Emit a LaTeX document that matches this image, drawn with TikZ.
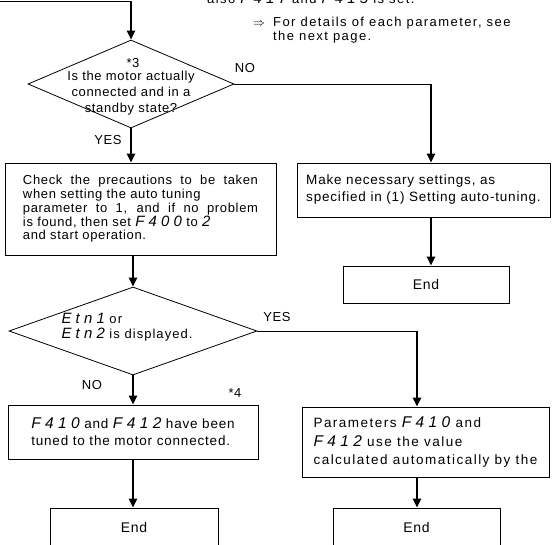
\documentclass[tikz,border=0pt]{standalone}
\usepackage{fontspec}
\setmainfont{Liberation Sans}
\newfontfamily\segfont{Liberation Sans}[LetterSpace=28, Scale=1.15]
\usepackage{tikz}
\usetikzlibrary{arrows.meta,positioning}
\usetikzlibrary{shapes.geometric}
\newcommand{\seg}[1]{{\segfont\itshape #1}}
\newcommand{\fsz}[3]{\fontsize{#1}{#2}\selectfont\addfontfeatures{LetterSpace=#3}}
\newcommand{\fullline}[1]{\makebox[235pt][s]{#1}}
\tikzstyle{new style 0}=[draw=black, shape=diamond, line width=0.8pt,
        inner sep=0pt, minimum width=206pt, minimum height=88pt]
\tikzstyle{new style 1}=[draw=black, shape=rectangle, line width=0.8pt,
        inner sep=0pt, align=left]
\tikzstyle{new style 2}=[draw=black, shape=rectangle, line width=0.8pt,
        inner sep=0pt, minimum height=37pt, font=\fsz{14}{16}{5}]
\tikzstyle{new style 3}=[inner sep=0pt, align=center]
\tikzstyle{new style 4}=[inner sep=0pt, font=\fsz{13}{15}{5}]
\tikzstyle{new edge style 0}=[-{Triangle[length=9pt, width=8pt]}, line width=2.2pt]
\tikzstyle{new edge style 1}=[-, line width=0.8pt]

\begin{document}
\begin{tikzpicture}[x=1pt, y=-1pt]
    \useasboundingbox (0, 0) rectangle (554, 544);

    % note at the top
    \node [anchor=base west, inner sep=0pt, font=\fsz{13}{14}{11}] (30) at (207, 3)
        {also \seg{F417} and \seg{F415} is set.};
    \node [anchor=north west, inner sep=0pt, font=\fsz{13}{14}{11}] (31) at (253, 16)
        {\begin{tabular}{@{}l@{\hspace{8pt}}l@{}}$\Rightarrow$ & For details of each parameter, see\\
        & the next page.\end{tabular}};

    % first decision
    \node [style=new style 0] (0) at (131, 84) {};
    \node [style=new style 3, font=\fsz{13}{15.7}{5}] (1) at (131, 93)
        {Is the motor actually\\connected and in a\\standby state?};
    \node [style=new style 4] (2) at (133, 63) {*3};
    \node [style=new style 4] (3) at (245, 68) {NO};
    \node [style=new style 4] (9) at (108, 140) {YES};

    \node [style=new style 1, minimum width=271pt, minimum height=92pt,
        font=\fsz{13}{13.7}{5}] (4) at (140.5, 209)
        {\fullline{Check the precautions to be taken}\\when setting the auto tuning\\
         \fullline{parameter to 1, and if no problem}\\is found, then set \seg{F400} to \seg{2}\\
         and start operation.};
    \node [style=new style 1, minimum width=253pt, minimum height=54pt,
        font=\fsz{13.5}{17}{6}] (5) at (423.5, 190)
        {Make necessary settings, as\\specified in (1) Setting auto-tuning.};
    \node [style=new style 2, minimum width=166pt] (6) at (426, 284.5) {End};

    % second decision
    \node [style=new style 0, minimum width=248pt] (7) at (133, 331) {};
    \node [style=new style 1, draw=none, font=\fsz{13}{14.5}{8}] (8) at (127, 327)
        {\seg{Etn1} or\\\seg{Etn2} is displayed.};
    \node [style=new style 4] (10) at (277, 317) {YES};
    \node [style=new style 4] (11) at (92, 385) {NO};
    \node [style=new style 4] (12) at (235, 393) {*4};

    \node [style=new style 1, minimum width=250pt, minimum height=54pt,
        font=\fsz{13.5}{17}{6}] (13) at (133, 432)
        {\seg{F410} and \seg{F412} have been\\tuned to the motor connected.};
    \node [style=new style 1, minimum width=247pt, minimum height=70pt,
        font=\fsz{13.5}{18.5}{11}] (14) at (425.5, 442)
        {Parameters \seg{F410} and\\\seg{F412} use the value\\calculated automatically by the};
    \node [style=new style 2, minimum width=168pt, minimum height=38pt] (15) at (134, 527) {End};
    \node [style=new style 2, minimum width=167pt, minimum height=38pt] (16) at (416.5, 527) {End};

    \coordinate (20) at (-2, 1);
    \coordinate (21) at (131, 1);
    \coordinate (22) at (431, 84);
    \coordinate (23) at (417, 331);

    \draw [style=new edge style 1] (20) to (21);
    \draw [style=new edge style 0] (21) to (0.north);
    \draw [style=new edge style 1] (0.east) to (22);
    \draw [style=new edge style 0] (22) to (22 |- 5.north);
    \draw [style=new edge style 0] (0.south) to (0.south |- 4.north);
    \draw [style=new edge style 0] (22 |- 5.south) to (22 |- 6.north);
    \draw [style=new edge style 0] (7.north |- 4.south) to (7.north);
    \draw [style=new edge style 1] (7.east) to (23);
    \draw [style=new edge style 0] (23) to (23 |- 14.north);
    \draw [style=new edge style 0] (7.south) to (13.north);
    \draw [style=new edge style 0] (13.south) to (13.south |- 15.north);
    \draw [style=new edge style 0] (23 |- 14.south) to (23 |- 16.north);
\end{tikzpicture}
\end{document}
